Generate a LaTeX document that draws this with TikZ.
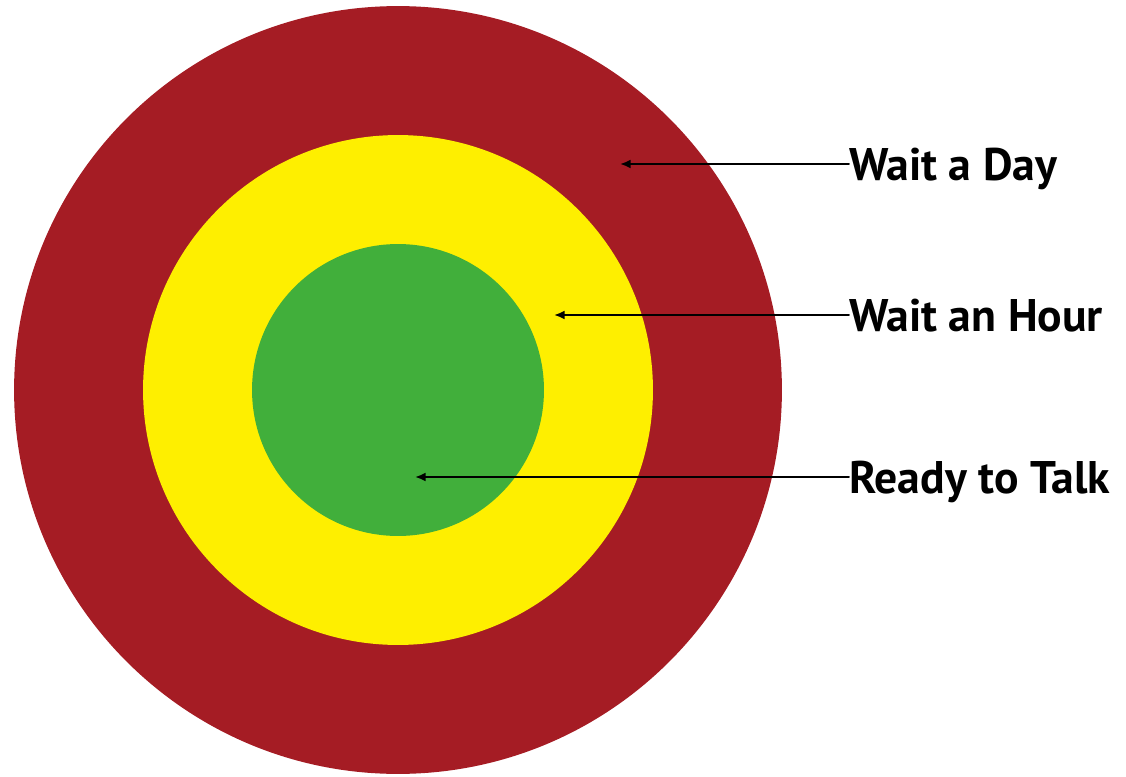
\documentclass[tikz,border=0pt]{standalone}
\usepackage{fontspec}
\setmainfont{PT Sans}
\usetikzlibrary{arrows.meta}
\definecolor{dayred}{HTML}{A51C24}
\definecolor{hourgold}{HTML}{FEEF00}
\definecolor{talkgreen}{HTML}{41AF3B}
\tikzset{zone label/.style={anchor=west,inner sep=0pt,text depth=0pt,font=\fontsize{26}{30}\selectfont\bfseries}}

\begin{document}
\begin{tikzpicture}[x=0.02cm,y=-0.02cm,line cap=round,line join=round]
  \useasboundingbox (0,0) rectangle (1126,777);
  \coordinate (M) at (398,390);
  \fill[dayred] (M) circle (7.68cm);
  \fill[hourgold] (M) circle (5.10cm);
  \fill[talkgreen] (M) circle (2.92cm);
  \coordinate (dayTip) at (620,164);
  \coordinate (hourTip) at (554,315);
  \coordinate (talkTip) at (415,477);
  \node[zone label] (day) at (849,164) {Wait a Day};
  \node[zone label] (hour) at (849,315) {Wait an Hour};
  \node[zone label] (talk) at (849,477) {Ready to Talk};
  \draw[line width=1.1pt,-{Latex[length=6pt,width=5pt]}] (day.west) -- (dayTip);
  \draw[line width=1.1pt,-{Latex[length=6pt,width=5pt]}] (hour.west) -- (hourTip);
  \draw[line width=1.1pt,-{Latex[length=6pt,width=5pt]}] (talk.west) -- (talkTip);
\end{tikzpicture}
\end{document}
